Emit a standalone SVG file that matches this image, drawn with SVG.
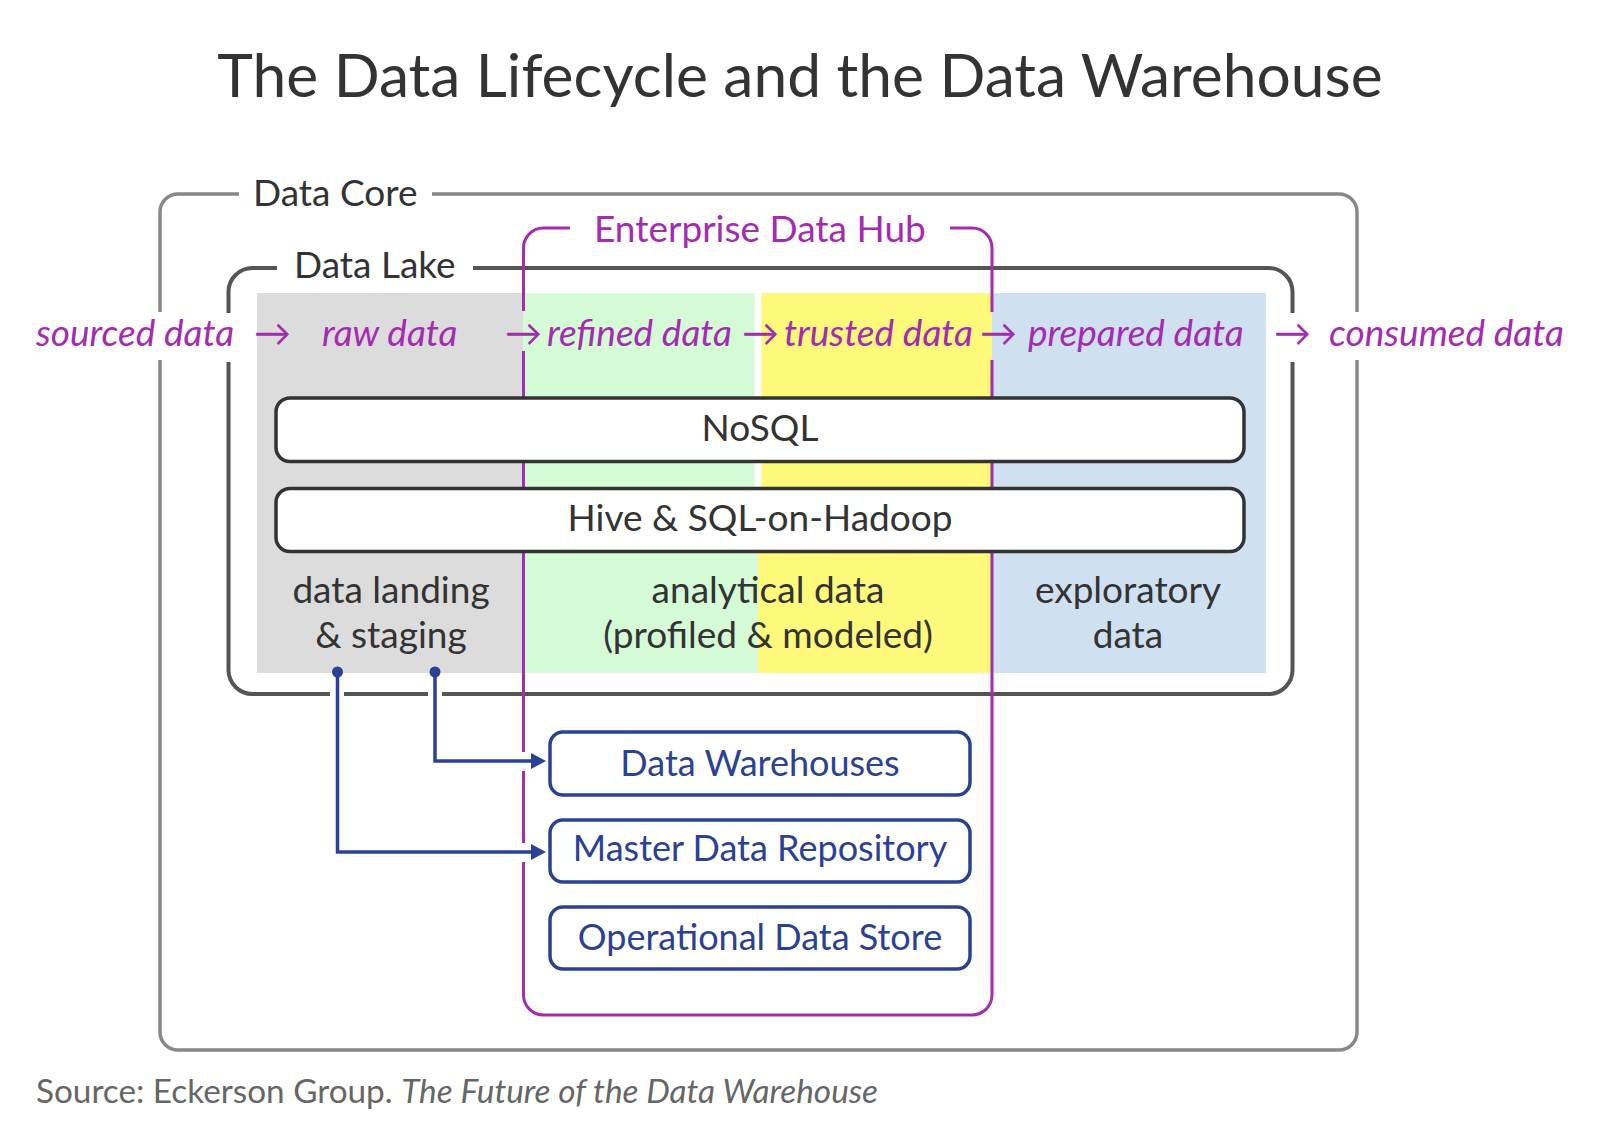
<svg xmlns="http://www.w3.org/2000/svg" width="1600" height="1134" viewBox="0 0 1600 1134">
<style>
  text { font-family: Lato, "Liberation Sans", sans-serif; }
  .title { font-size: 60.5px; fill: #333333; }
  .lbl { font-size: 37px; fill: #333333; }
  .zone { font-size: 37px; fill: #333333; text-anchor: middle; }
  .flow { font-size: 37px; font-style: italic; fill: #a32cb0; }
  .edh { font-size: 37px; fill: #a32cb0; }
  .box { fill: #ffffff; stroke: #333333; stroke-width: 3.5; }
  .boxtxt { font-size: 37px; fill: #333333; text-anchor: middle; }
  .bbox { fill: #ffffff; stroke: #2b4195; stroke-width: 3.5; }
  .btxt { font-size: 36px; fill: #2b4195; text-anchor: middle; }
  .conn { fill: none; stroke: #2b4195; stroke-width: 3.5; }
  .src { font-size: 33.3px; fill: #666666; }
</style>
<defs>
  <marker id="arr" markerUnits="userSpaceOnUse" markerWidth="16" markerHeight="16" refX="0" refY="8" orient="auto">
    <path d="M0,0 L15,8 L0,16 Z" fill="#2b4195"/>
  </marker>
</defs>
<rect x="0" y="0" width="1600" height="1134" fill="#ffffff"/>

<g id="title">
  <text class="title" x="800" y="97" text-anchor="middle">The Data Lifecycle and the Data Warehouse</text>
</g>

<g id="zones">
  <rect x="257" y="293" width="266.5" height="380" fill="#dcdcdc"/>
  <rect x="523.5" y="293" width="231" height="195" fill="#d4fad6"/>
  <rect x="523.5" y="488" width="234.5" height="185" fill="#d4fad6"/>
  <rect x="761.5" y="293" width="230.5" height="195" fill="#fef97b"/>
  <rect x="758" y="488" width="234" height="185" fill="#fef97b"/>
  <rect x="992" y="293" width="274" height="380" fill="#cfe0f1"/>
</g>

<g id="data-core">
  <path d="M432,194 H1339 A18,18 0 0 1 1357,212 V312 M1357,360 V1032 A18,18 0 0 1 1339,1050 H178 A18,18 0 0 1 160,1032 V360 M160,312 V212 A18,18 0 0 1 178,194 H239" fill="none" stroke="#888888" stroke-width="3.5"/>
  <text class="lbl" x="253" y="206">Data Core</text>
</g>

<g id="data-lake">
  <path d="M473,268 H1268.5 A24,24 0 0 1 1292.5,292 V313 M1292.5,362 V670 A24,24 0 0 1 1268.5,694 H442 M428,694 H344 M330,694 H252.5 A24,24 0 0 1 228.5,670 V362 M228.5,313 V292 A24,24 0 0 1 252.5,268 H277" fill="none" stroke="#555555" stroke-width="4"/>
  <text class="lbl" x="294" y="278">Data Lake</text>
</g>

<g id="enterprise-data-hub">
  <path d="M950,228 H972 A20,20 0 0 1 992,248 V312 M992,360 V995 A20,20 0 0 1 972,1015 H543.5 A20,20 0 0 1 523.5,995 V862 M523.5,843 V771 M523.5,752 V351 M523.5,311 V248 A20,20 0 0 1 543.5,228 H570" fill="none" stroke="#a32cb0" stroke-width="3"/>
  <text class="edh" x="594" y="242">Enterprise Data Hub</text>
</g>

<g id="nosql">
  <rect class="box" x="276" y="398" width="968" height="63.5" rx="14"/>
  <text class="boxtxt" x="760" y="441">NoSQL</text>
</g>

<g id="hive">
  <rect class="box" x="276" y="488.5" width="968" height="63" rx="14"/>
  <text class="boxtxt" x="760" y="531">Hive &amp; SQL-on-Hadoop</text>
</g>

<g id="flow-labels">
  <text class="flow" x="36" y="346">sourced data</text>
  <text class="flow" x="254" y="346">→</text>
  <text class="flow" x="322" y="346">raw data</text>
  <text class="flow" x="505" y="346">→</text>
  <text class="flow" x="547" y="346">refined data</text>
  <text class="flow" x="742" y="346">→</text>
  <text class="flow" x="784" y="346">trusted data</text>
  <text class="flow" x="980" y="346">→</text>
  <text class="flow" x="1028" y="346">prepared data</text>
  <text class="flow" x="1274" y="346">→</text>
  <text class="flow" x="1329" y="346">consumed data</text>
</g>

<g id="zone-labels">
  <text class="zone" x="391" y="603">data landing</text>
  <text class="zone" x="391" y="648">&amp; staging</text>
  <text class="zone" x="768" y="603">analytical data</text>
  <text class="zone" x="768" y="648">(profiled &amp; modeled)</text>
  <text class="zone" x="1128" y="603">exploratory</text>
  <text class="zone" x="1128" y="648">data</text>
</g>

<g id="data-warehouses">
  <rect class="bbox" x="550" y="732" width="420" height="63" rx="13"/>
  <text class="btxt" x="760" y="776">Data Warehouses</text>
</g>

<g id="master-data-repository">
  <rect class="bbox" x="550" y="820" width="420" height="62" rx="13"/>
  <text class="btxt" x="760" y="861">Master Data Repository</text>
</g>

<g id="operational-data-store">
  <rect class="bbox" x="550" y="907" width="420" height="62" rx="13"/>
  <text class="btxt" x="760" y="950">Operational Data Store</text>
</g>

<g id="connectors">
  <circle cx="435" cy="672" r="5.5" fill="#2b4195"/>
  <path class="conn" d="M435,672 V761 H531" marker-end="url(#arr)"/>
  <circle cx="337.5" cy="672" r="5.5" fill="#2b4195"/>
  <path class="conn" d="M337.5,672 V852 H531" marker-end="url(#arr)"/>
</g>

<g id="source">
  <text class="src" x="36" y="1103">Source: Eckerson Group. <tspan font-style="italic">The Future of the Data Warehouse</tspan></text>
</g>
</svg>
